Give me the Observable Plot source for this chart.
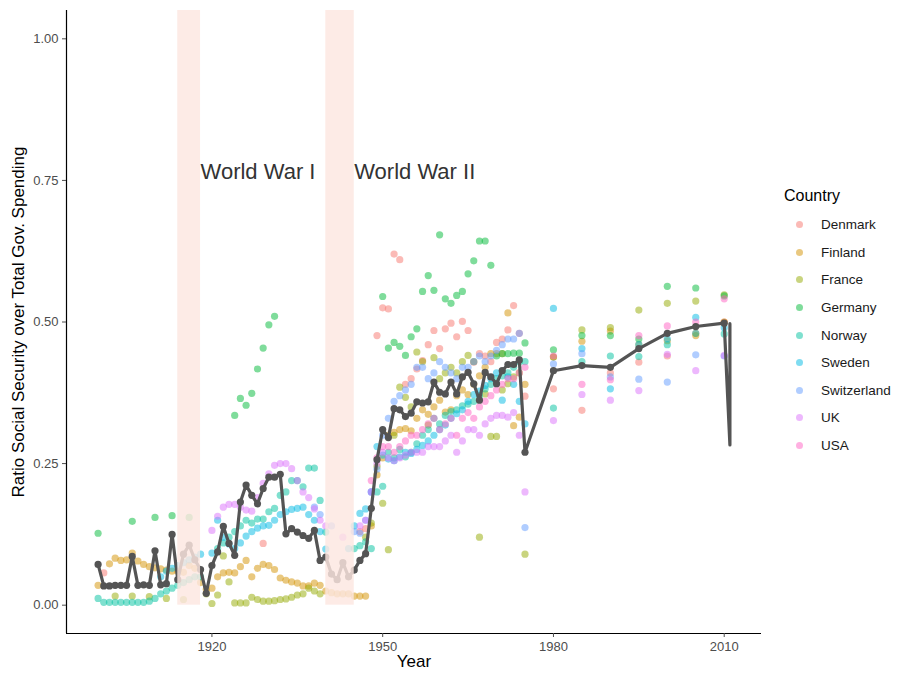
<!DOCTYPE html>
<html><head><meta charset="utf-8">
<script src="https://cdn.jsdelivr.net/npm/d3@7"></script>
<script src="https://cdn.jsdelivr.net/npm/@observablehq/plot@0.6"></script>
<style>
 html,body{margin:0;padding:0;background:#fff;}
 #wrap{position:relative;width:901px;height:678px;font-family:"Liberation Sans",Arial,Helvetica,sans-serif;}
 #legend{position:absolute;left:784px;top:184px;}
 .lt{font-size:16px;color:#000;height:27px;line-height:24px;}
 .li{height:27.6px;display:flex;align-items:center;font-size:13.5px;color:#1a1a1a;}
 .sw{width:7px;height:7px;border-radius:50%;margin-left:12px;margin-right:18px;}
</style></head>
<body><div id="wrap"><div id="chart"></div><div id="legend"></div></div>
<script>
const countries = ["Denmark","Finland","France","Germany","Norway","Sweden","Switzerland","UK","USA"];
const palette = ["#F8766D","#D39200","#93AA00","#00BA38","#00C19F","#00B9E3","#619CFF","#DB72FB","#FF61C3"];

const years = [
 1900,1901,1902,1903,1904,1905,1906,1907,1908,1909,
 1910,1911,1912,1913,1914,1915,1916,1917,1918,1919,
 1920,1921,1922,1923,1924,1925,1926,1927,1928,1929,
 1930,1931,1932,1933,1934,1935,1936,1937,1938,1939,
 1940,1941,1942,1943,1944,1945,1946,1947,1948,1949,
 1950,1951,1952,1953,1954,1955,1956,1957,1958,1959,
 1960,1961,1962,1963,1964,1965,1966,1967,1968,1969,
 1970,1971,1972,1973,1974,1975,
 1980,1985,1990,1995,2000,2005,2010];

const _ = null;
const denmark = [
 _,0.057,_,_,_,_,_,_,_,_,
 _,_,_,_,_,_,_,_,_,_,
 _,_,_,_,_,_,_,_,_,0.109,
 _,_,_,_,_,_,_,_,_,_,
 _,_,_,_,_,_,0.13,0.135,_,0.476,
 0.525,0.523,0.62,0.61,0.39,0.40,0.417,0.432,0.46,0.485,
 0.453,0.488,0.498,0.474,0.501,0.485,0.429,0.444,0.44,0.43,
 0.464,0.47,0.486,0.529,0.48,0.369,
 0.382,0.344,0.41,0.429,0.44,0.48,0.5];
const finland = [
 0.035,_,0.073,0.083,0.079,0.08,0.092,0.078,0.072,0.068,
 0.066,0.064,0.062,0.06,0.06,0.058,0.07,0.065,0.04,0.028,
 0.03,0.05,0.057,0.058,0.057,0.068,0.079,0.05,0.065,0.072,
 0.07,0.063,0.048,0.044,0.041,0.039,0.034,0.034,0.039,0.035,
 0.025,0.022,0.02,0.02,0.02,0.016,0.016,0.016,0.14,0.23,
 0.26,0.3,0.305,0.31,0.312,0.308,0.33,0.345,0.337,0.35,
 0.362,0.341,0.345,0.37,0.38,0.372,0.39,0.405,0.42,0.444,
 0.444,0.444,0.516,0.317,0.332,0.39,
 0.438,0.466,0.484,0.46,0.467,0.476,0.5];
const france = [
 _,_,_,0.016,_,_,0.016,_,_,0.015,
 _,_,0.012,_,_,0.01,_,_,_,0.02,
 0.003,0.018,0.087,0.041,0.004,0.004,0.004,0.014,0.01,0.007,
 0.007,0.008,0.01,0.011,0.014,0.018,0.02,0.03,0.025,0.02,
 _,_,_,_,_,_,_,0.12,0.145,0.245,
 0.18,0.098,0.3,0.385,0.367,0.35,0.447,0.43,0.318,0.437,
 0.4,0.41,0.42,0.41,0.43,0.441,0.43,0.12,0.373,0.298,
 0.298,0.38,0.391,0.403,0.41,0.09,
 0.438,0.486,0.49,0.521,0.533,0.537,0.548];
const germany = [
 0.127,_,_,_,_,_,0.148,_,_,_,
 0.155,_,_,0.158,_,_,0.155,_,_,_,
 _,_,_,_,0.335,0.365,0.353,0.374,0.417,0.454,
 0.495,0.51,_,_,_,_,_,_,_,_,
 _,_,_,_,_,_,_,_,_,_,
 0.545,0.454,0.464,0.457,0.441,0.474,0.488,0.554,0.582,0.556,
 0.654,0.541,0.533,0.547,0.554,0.585,0.608,0.643,0.643,0.6,
 0.44,0.444,0.444,0.445,0.445,0.463,
 0.451,0.476,0.476,0.47,0.563,0.56,0.546];
const norway = [
 0.012,0.005,0.005,0.005,0.005,0.005,0.005,0.005,0.005,0.007,
 0.012,0.02,0.025,0.03,0.035,0.04,0.045,0.05,0.05,_,
 _,0.1,0.11,0.12,0.13,0.14,0.15,0.145,0.152,0.152,
 0.165,0.171,0.194,0.2,0.22,0.22,0.209,0.242,0.242,0.185,
 0.129,_,_,_,_,0.1,0.105,0.112,0.1,0.2,
 0.21,0.27,0.26,0.275,0.262,0.27,0.285,0.3,0.31,0.33,
 0.32,0.335,0.342,0.345,0.352,0.355,0.36,0.37,0.382,0.39,
 0.4,0.405,0.41,0.42,0.43,0.43,
 0.348,0.43,0.44,0.439,0.46,0.48,0.479];
const sweden = [
 _,_,_,_,_,_,_,_,_,_,
 _,0.05,0.06,0.065,0.07,0.075,0.08,0.085,0.09,_,
 0.092,0.15,0.12,0.108,0.1,0.11,0.122,0.13,0.136,0.14,
 0.141,0.15,0.16,0.165,0.169,0.171,0.173,0.16,0.15,0.13,
 0.099,_,_,_,0.1,0.14,0.162,0.17,0.2,0.28,
 0.265,0.258,0.255,0.262,0.27,0.268,0.275,0.282,0.29,0.3,
 0.31,0.318,0.33,0.338,0.345,0.36,0.372,0.378,0.388,0.4,
 0.41,0.362,0.403,0.39,0.36,0.32,
 0.524,0.453,0.382,0.46,0.47,0.508,0.49];
const switzerland = [
 _,_,_,_,_,_,_,_,_,_,
 _,_,_,_,_,_,_,_,_,_,
 _,_,_,_,_,_,_,_,_,_,
 _,_,_,_,_,_,_,_,0.173,0.16,
 _,0.14,_,_,_,0.13,0.127,0.15,0.2,0.24,
 0.3,0.33,0.36,0.37,0.38,0.39,0.42,0.42,0.4,0.41,
 0.43,0.42,0.41,0.4,0.42,0.42,0.43,0.44,0.43,0.44,
 0.45,0.46,0.47,0.47,0.48,0.137,
 0.426,0.444,0.403,0.399,0.394,0.442,0.44];
const uk = [
 _,_,_,_,_,_,_,_,_,_,
 _,_,_,_,_,_,_,_,_,_,
 0.132,0.157,0.173,0.178,0.178,0.173,0.168,0.166,0.19,0.215,
 0.232,0.247,0.25,0.25,0.241,0.22,0.2,0.19,0.17,0.15,
 0.14,_,_,0.12,_,_,0.14,0.15,0.2,0.25,
 0.27,0.26,0.255,0.26,0.265,0.27,0.27,0.27,0.28,0.28,
 0.28,0.29,0.3,0.27,0.29,0.31,0.31,0.3,0.32,0.33,
 0.335,0.335,0.332,0.34,0.3,0.2,
 0.326,0.372,0.362,0.379,0.443,0.414,0.441];
const usa = [
 _,_,_,_,_,_,_,_,_,_,
 _,_,_,_,_,_,_,_,_,_,
 _,_,_,_,_,_,_,_,_,_,
 _,_,_,_,_,_,_,_,_,_,
 _,_,_,_,_,_,_,_,0.22,0.26,
 0.28,0.28,0.27,0.28,0.29,0.3,0.3,0.31,0.32,0.33,
 0.31,0.32,0.33,0.3,0.33,0.34,0.33,0.35,0.36,0.37,
 0.38,0.39,0.4,0.4,0.41,0.42,
 0.44,0.39,0.398,0.476,0.493,0.5,0.541];

const meanYears = [
 1900,1901,1902,1903,1904,1905,1906,1907,1908,1909,
 1910,1911,1912,1913,1914,1915,1916,1917,1918,1919,
 1920,1921,1922,1923,1924,1925,1926,1927,1928,1929,
 1930,1931,1932,1933,1934,1935,1936,1937,1938,1939,
 1940,1941,1942,1943,1944,1945,1946,1947,1948,1949,
 1950,1951,1952,1953,1954,1955,1956,1957,1958,1959,
 1960,1961,1962,1963,1964,1965,1966,1967,1968,1969,
 1970,1971,1972,1973,1974,1975,
 1980,1985,1990,1995,2000,2005,2010,2011,2011];
const meanValues = [
 0.072,0.034,0.034,0.035,0.035,0.035,0.086,0.035,0.036,0.035,
 0.096,0.036,0.038,0.125,0.045,0.09,0.106,0.08,0.063,0.021,
 0.07,0.094,0.139,0.109,0.088,0.182,0.212,0.194,0.179,0.206,
 0.226,0.226,0.231,0.126,0.135,0.129,0.123,0.118,0.132,0.079,
 0.085,0.055,0.045,0.075,0.05,0.062,0.079,0.091,0.171,0.257,
 0.31,0.296,0.347,0.345,0.333,0.339,0.359,0.357,0.359,0.394,
 0.376,0.373,0.394,0.373,0.403,0.411,0.391,0.362,0.411,0.403,
 0.391,0.414,0.425,0.425,0.433,0.27,
 0.414,0.423,0.42,0.453,0.48,0.492,0.498,0.283,0.497];

const warNames = ["World War I","World War II"];
const warStart = [1914,1940];
const warEnd = [1918,1945];
const warLabelY = 0.765;

const xTicks = [1920,1950,1980,2010];
const yTicks = [0,0.25,0.5,0.75,1];
const xTitle = "Year";
const yTitle = "Ratio Social Security over Total Gov. Spending";
const legendTitle = "Country";

// build tables
const series = [denmark,finland,france,germany,norway,sweden,switzerland,uk,usa];
const points = [];
series.forEach((vals,i)=>vals.forEach((v,j)=>{ if(v!==null) points.push({country:countries[i],year:years[j],value:v}); }));
const meanRows = meanYears.map((y,i)=>({year:y,value:meanValues[i],marker:y<=2010}));
const wars = warNames.map((n,i)=>({name:n,start:warStart[i],end:warEnd[i]}));

const xDomain=[1894.45,2016.55], yDomain=[-0.05,1.05];
const ink = "#545454";

const chart = Plot.plot({
  width:901,height:678,marginLeft:66,marginRight:140,marginTop:10,marginBottom:45,
  style:{fontFamily:'"Liberation Sans",Arial,sans-serif',background:"#fff",overflow:"visible"},
  x:{domain:xDomain,label:null},
  y:{domain:yDomain,label:null},
  color:{domain:countries,range:palette},
  marks:[
    Plot.dot(points,{x:"year",y:"value",fill:"country",r:3.6,fillOpacity:0.5}),
    Plot.line(meanRows,{x:"year",y:"value",stroke:ink,strokeWidth:3.2,strokeLinejoin:"round"}),
    Plot.dot(meanRows.filter(d=>d.marker),{x:"year",y:"value",fill:ink,r:3.6}),
    Plot.rect(wars,{x1:"start",x2:"end",y1:()=>0,y2:()=>yDomain[1],fill:"#fce6e0",fillOpacity:0.82}),
    Plot.text(wars,{x:"end",y:()=>warLabelY,text:"name",textAnchor:"start",fontSize:22,fill:"#333"}),
    Plot.ruleX([xDomain[0]],{stroke:"#000",strokeWidth:1.2}),
    Plot.ruleY([yDomain[0]],{stroke:"#000",strokeWidth:1.2}),
    Plot.axisX({ticks:xTicks,tickFormat:d=>String(d),tickSize:4,tickPadding:4,fontSize:13,color:"#4d4d4d",label:null}),
    Plot.axisY({ticks:yTicks,tickFormat:d3.format(".2f"),tickSize:4,tickPadding:4,fontSize:13,color:"#4d4d4d",label:null}),
    Plot.text([xTitle],{frameAnchor:"bottom",dy:33,fontSize:17,fill:"#000"}),
    Plot.text([yTitle],{frameAnchor:"left",textAnchor:"middle",dx:-48,rotate:-90,fontSize:17,fill:"#000"})
  ]
});
document.getElementById("chart").appendChild(chart);

// legend
const lg = document.getElementById("legend");
const t = document.createElement("div"); t.className="lt"; t.textContent=legendTitle; lg.appendChild(t);
countries.forEach((c,i)=>{
  const row=document.createElement("div"); row.className="li";
  const sw=document.createElement("span"); sw.className="sw"; sw.style.background=palette[i]; sw.style.opacity="0.5";
  const tx=document.createElement("span"); tx.textContent=c;
  row.appendChild(sw); row.appendChild(tx); lg.appendChild(row);
});
</script></body></html>
